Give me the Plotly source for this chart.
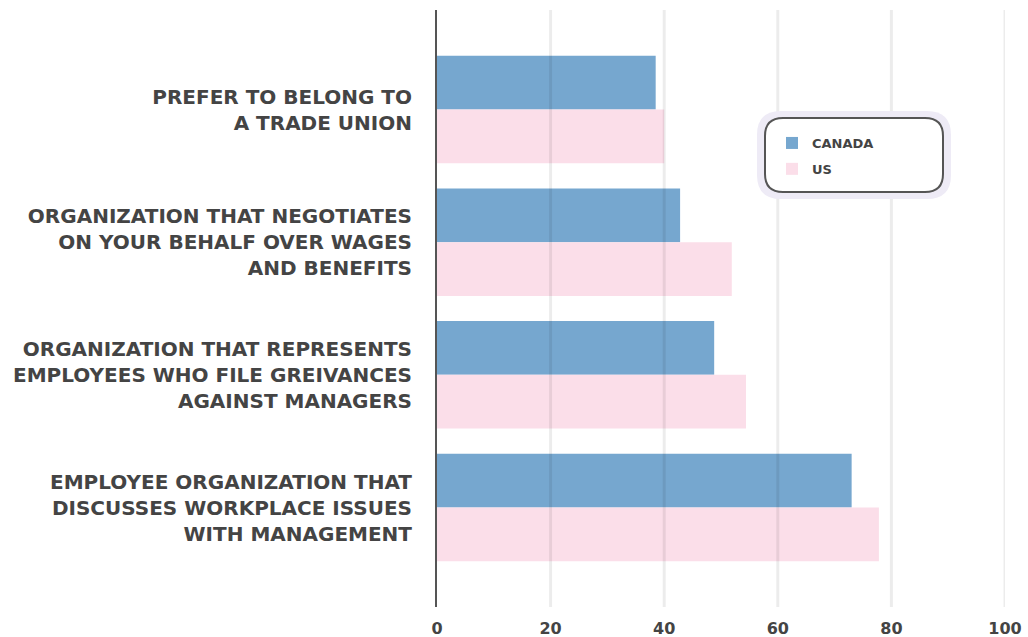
import plotly.graph_objects as go

categories = [
    "PREFER TO BELONG TO<br>A TRADE UNION",
    "ORGANIZATION THAT NEGOTIATES<br>ON YOUR BEHALF OVER WAGES<br>AND BENEFITS",
    "ORGANIZATION THAT REPRESENTS<br>EMPLOYEES WHO FILE GREIVANCES<br>AGAINST MANAGERS",
    "EMPLOYEE ORGANIZATION THAT<br>DISCUSSES WORKPLACE ISSUES<br>WITH MANAGEMENT",
]
canada = [38.5, 42.8, 48.8, 73.0]
us = [40.0, 51.9, 54.4, 77.8]
x_ticks = [0, 20, 40, 60, 80, 100]

FONT = "DejaVu Sans"
TEXT = "#444444"

fig = go.Figure()
fig.add_trace(go.Bar(y=categories, x=canada, orientation="h", name="CANADA",
                     legendgroup="ca",
                     marker=dict(color="#76a7cf", line=dict(width=0))))
fig.add_trace(go.Bar(y=categories, x=us, orientation="h", name="US",
                     legendgroup="us",
                     marker=dict(color="#fbdee9", line=dict(width=0))))

shapes = []
for t in x_ticks[1:]:
    shapes.append(dict(type="line", xref="x", yref="paper", x0=t, x1=t, y0=0, y1=1,
                       line=dict(color="rgba(0,0,0,0.075)", width=3), layer="above"))


W, H = 568, 597


def rrect(x0, y0, x1, y1, r_px):
    rx = r_px / W
    ry = r_px / H
    return (f"M {x0+rx},{y0} L {x1-rx},{y0} Q {x1},{y0} {x1},{y0+ry} "
            f"L {x1},{y1-ry} Q {x1},{y1} {x1-rx},{y1} L {x0+rx},{y1} "
            f"Q {x0},{y1} {x0},{y1-ry} L {x0},{y0+ry} Q {x0},{y0} {x0+rx},{y0} Z")


def px_x(p):
    return (p - 437) / W


def px_y(p):
    return (607 - p) / H


shapes.append(dict(type="path", xref="paper", yref="paper",
                   path=rrect(px_x(757), px_y(199), px_x(951), px_y(111), 24),
                   fillcolor="#eeebf6", line=dict(width=0), layer="above"))
shapes.append(dict(type="path", xref="paper", yref="paper",
                   path=rrect(px_x(765), px_y(192), px_x(943), px_y(118), 18),
                   fillcolor="white", line=dict(color="#555555", width=2), layer="above"))

fig.update_layout(
    width=1028, height=637,
    margin=dict(l=437, r=23, t=10, b=30, autoexpand=False),
    paper_bgcolor="white", plot_bgcolor="white",
    barmode="group", bargap=0.19, bargroupgap=0,
    font=dict(family=FONT, color=TEXT),
    showlegend=True,
    legend=dict(x=px_x(772), y=px_y(128), xanchor="left", yanchor="top",
                bgcolor="rgba(0,0,0,0)", borderwidth=0,
                traceorder="grouped", tracegroupgap=6,
                font=dict(family=FONT, size=13, color=TEXT, weight="bold"),
                itemwidth=30),
    shapes=shapes,
    xaxis=dict(range=[0, 100], tickvals=x_ticks, ticktext=[str(t) for t in x_ticks],
               showgrid=False, zeroline=False, showline=False, automargin=False,
               tickfont=dict(family=FONT, size=16, color=TEXT, weight="bold"),
               ticks="", ticklabelstandoff=10, fixedrange=True),
    yaxis=dict(autorange=False, range=[3.75, -0.75], categoryorder="array",
               categoryarray=categories, showgrid=False, zeroline=False,
               showline=True, linecolor="#555555", linewidth=2, automargin=False,
               ticks="", ticklabelstandoff=19,
               tickfont=dict(family=FONT, size=20, color=TEXT, weight="bold")),
)

fig.write_html("out.html", config={"displayModeBar": False},
               post_script="document.body.style.margin='0';")
